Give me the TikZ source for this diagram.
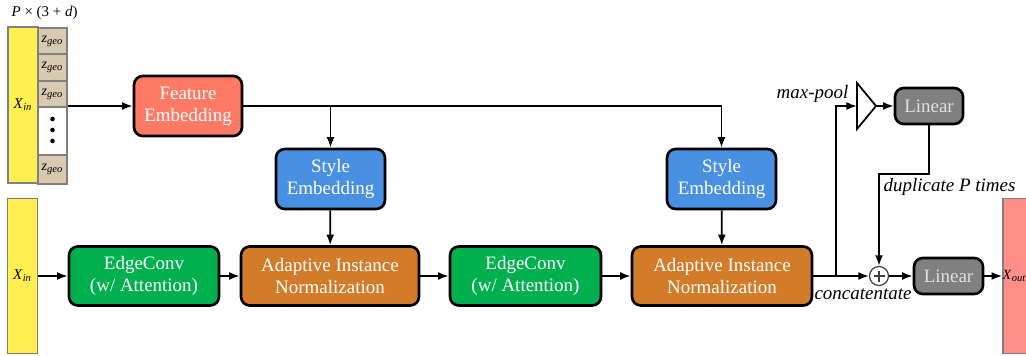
\documentclass[tikz,border=0pt]{standalone}
\usepackage{fontspec}
\setmainfont{Liberation Serif}
\renewcommand{\familydefault}{\rmdefault}
\usetikzlibrary{arrows.meta}
\usetikzlibrary{positioning}

\definecolor{incol}{HTML}{FFEF50}
\definecolor{cellcol}{HTML}{D8CAB0}
\definecolor{featcol}{HTML}{FF7A64}
\definecolor{stylecol}{HTML}{4A90E2}
\definecolor{edgecol}{HTML}{00B04F}
\definecolor{adacol}{HTML}{D27C2A}
\definecolor{lincol}{HTML}{808080}
\definecolor{outcol}{HTML}{FF8F88}

\tikzset{
  block/.style={draw, line width=1.5pt, rounded corners=5pt, text=white, align=center,
    inner sep=0pt, font=\rmfamily\fontsize{10.8}{12.4}\selectfont},
  inbox/.style={draw=gray, line width=1pt, fill=incol, minimum width=0.6cm, inner sep=0pt,
    font=\rmfamily\fontsize{8.5}{10}\selectfont},
  cell/.style={draw=gray, line width=1pt, fill=cellcol, minimum width=0.58cm, inner sep=0pt,
    font=\rmfamily\fontsize{8}{9}\selectfont},
  lbl/.style={font=\rmfamily\fontsize{10.8}{12.4}\selectfont\itshape, inner sep=1pt}
}

\newcommand{\zgeo}{\textit{z}\textsubscript{\textit{geo}}}

\begin{document}
\begin{tikzpicture}[x=0.02cm, y=-0.02cm, line width=1pt, >={Latex[length=6pt,width=4.5pt]}]

\useasboundingbox (0,0) rectangle (1026,355);
\clip (0,0) rectangle (1026,355);

% input with geometry codes
\node[anchor=west, font=\rmfamily\fontsize{8.5}{10}\selectfont] (dims) at (5,13) {\textit{P} × (3 + \textit{d})};
\node[inbox, minimum height=3.12cm] (xin1) at (23,105) {\textit{X}\textsubscript{\textit{in}}};
\foreach \i/\y in {1/27, 2/53.5, 3/80}
  \node[cell, anchor=north, minimum height=0.53cm] (z\i) at (52.5,\y) {\zgeo};
\node[cell, anchor=north, fill=white, minimum height=0.95cm] (zdots) at (52.5,106.5) {};
\foreach \y in {119,130,141}
  \fill (52.5,\y) circle (2.3);
\node[cell, anchor=north, minimum height=0.58cm] (z4) at (52.5,154) {\zgeo};

% embeddings
\node[block, fill=featcol, minimum width=2.16cm, minimum height=1.2cm] (fe) at (188,106) {Feature\\Embedding};
\node[block, fill=stylecol, minimum width=2.18cm, minimum height=1.2cm] (se1) at (330.5,179) {Style\\Embedding};
\node[block, fill=stylecol, minimum width=2.18cm, minimum height=1.2cm] (se2) at (721.5,179) {Style\\Embedding};

% main branch
\node[inbox, minimum height=3.1cm] (xin2) at (22.5,276) {\textit{X}\textsubscript{\textit{in}}};
\node[block, fill=edgecol, minimum width=3.0cm, minimum height=1.18cm] (ec1) at (144,276) {EdgeConv\\(w/ Attention)};
\node[block, fill=adacol, minimum width=3.56cm, minimum height=1.18cm] (ada1) at (330,276) {Adaptive Instance\\Normalization};
\node[block, fill=edgecol, minimum width=3.02cm, minimum height=1.18cm] (ec2) at (525.5,276) {EdgeConv\\(w/ Attention)};
\node[block, fill=adacol, minimum width=3.6cm, minimum height=1.18cm] (ada2) at (722,276) {Adaptive Instance\\Normalization};

% global feature
\coordinate (poolin) at (857,106);
\draw[fill=white] (poolin) ++(0,-23) -- ++(19,23) coordinate (poolout) -- ++(-19,23) -- cycle;
\node[block, fill=lincol, text=white!88!black, minimum width=1.36cm, minimum height=0.72cm] (lin1) at (929,106) {Linear};
\node[circle, draw=black!75, line width=0.7pt, minimum size=0.38cm, inner sep=0pt,
  path picture={\draw[line width=0.8pt] ([xshift=-1.1mm]path picture bounding box.center) -- ([xshift=1.1mm]path picture bounding box.center);
    \draw[line width=0.8pt] ([yshift=-1.1mm]path picture bounding box.center) -- ([yshift=1.1mm]path picture bounding box.center);}] (plus) at (879,276) {};
\node[block, fill=lincol, text=white!88!black, minimum width=1.38cm, minimum height=0.72cm] (lin2) at (948.5,276) {Linear};
\node[draw=gray, line width=1pt, fill=outcol, minimum width=0.88cm, minimum height=3.1cm, inner sep=0pt] (xout) at (1025,276) {};
\node[font=\rmfamily\fontsize{8}{9}\selectfont, inner sep=0pt] (xoutlbl) at (1014.5,276) {\textit{X}\textsubscript{\textit{out}}};

\coordinate (branch) at (836,276);

% labels
\node[lbl, anchor=east] (poollbl) at (851,94) {max-pool};
\node[lbl, anchor=west] (duplbl) at (881,187) {duplicate P times};
\node[lbl] (catlbl) at (863,294) {concatentate};

% connectors
\draw[->] (fe.west -| z3.east) -- (fe.west);
\draw[->] (fe.east) -| (se2.north);
\draw[->] (fe.east -| se1.north) -- (se1.north);
\draw[->] (se1) -- (ada1);
\draw[->] (se2) -- (ada2);
\draw[->] (xin2) -- (ec1);
\draw[->] (ec1) -- (ada1);
\draw[->] (ada1) -- (ec2);
\draw[->] (ec2) -- (ada2);
\draw[->] (ada2) -- (plus);
\draw[->] (branch) |- (poolin);
\draw[->] (poolout) -- (lin1.west);
\draw[->] (lin1.south) -- ++(0,49) -| (plus.north);
\draw[->] (plus) -- (lin2);
\draw[->] (lin2) -- (xout.west);

\end{tikzpicture}
\end{document}
